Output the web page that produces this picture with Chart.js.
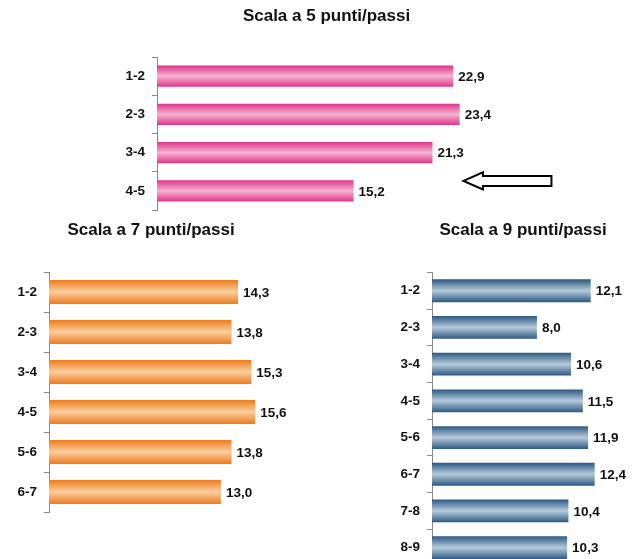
<!DOCTYPE html>
<html>
<head>
<meta charset="utf-8">
<script src="https://cdn.jsdelivr.net/npm/chart.js@4"></script>
<style>
  body { margin: 0; background: #fff; }
  #wrap { position: relative; width: 641px; height: 559px; overflow: hidden; }
  canvas { position: absolute; }
</style>
</head>
<body>
<div id="wrap">
  <canvas id="chart5" width="533" height="212" style="left:108px; top:0px"></canvas>
  <canvas id="chart7" width="292" height="308" style="left:15px; top:212px"></canvas>
  <canvas id="chart9" width="264" height="358" style="left:391px; top:212px"></canvas>
</div>
<script>
// ===== Data =====
const title5 = "Scala a 5 punti/passi";
const labels5 = ["1-2", "2-3", "3-4", "4-5"];
const values5 = [22.9, 23.4, 21.3, 15.2];

const title7 = "Scala a 7 punti/passi";
const labels7 = ["1-2", "2-3", "3-4", "4-5", "5-6", "6-7"];
const values7 = [14.3, 13.8, 15.3, 15.6, 13.8, 13.0];

const title9 = "Scala a 9 punti/passi";
const labels9 = ["1-2", "2-3", "3-4", "4-5", "5-6", "6-7", "7-8", "8-9"];
const values9 = [12.1, 8.0, 10.6, 11.5, 11.9, 12.4, 10.4, 10.3];

const fontFamily = "'Liberation Sans', Arial, sans-serif";

// ===== Value labels with comma decimals =====
const valueLabels = {
  id: "valueLabels",
  afterDatasetsDraw(chart) {
    const ctx = chart.ctx;
    const ds = chart.data.datasets[0];
    ctx.save();
    ctx.font = "bold 13.5px " + fontFamily;
    ctx.fillStyle = "#111";
    ctx.textAlign = "left";
    ctx.textBaseline = "middle";
    chart.getDatasetMeta(0).data.forEach((bar, i) => {
      ctx.fillText(ds.data[i].toFixed(1).replace(".", ","), bar.x + 5, bar.y + 1);
    });
    ctx.restore();
  }
};

// ===== Bar gradient: dark edges, light middle (built once scales are sized) =====
const barShading = {
  id: "barShading",
  afterLayout(chart) {
    const ds = chart.data.datasets[0];
    const ys = chart.scales.y;
    const h = (ys.bottom - ys.top) / chart.data.labels.length * ds.barPercentage;
    ds.grads = ds.data.map((v, i) => {
      const cy = ys.getPixelForValue(i);
      const g = chart.ctx.createLinearGradient(0, cy - h / 2, 0, cy + h / 2);
      g.addColorStop(0, ds.shade[0]);
      g.addColorStop(0.5, ds.shade[1]);
      g.addColorStop(1, ds.shade[0]);
      return g;
    });
  }
};

// ===== Arrow pointing at the 4-5 bar =====
const arrow = {
  id: "arrow",
  afterDraw(chart) {
    const xs = chart.scales.x, ys = chart.scales.y;
    const y = ys.getPixelForValue(3) - 10;
    const tip = xs.getPixelForValue(23.7);
    const base = xs.getPixelForValue(25.2);
    const tail = xs.getPixelForValue(30.5);
    const ctx = chart.ctx;
    ctx.save();
    ctx.beginPath();
    ctx.moveTo(tip, y);
    ctx.lineTo(base, y - 8.5);
    ctx.lineTo(base, y - 5);
    ctx.lineTo(tail, y - 5);
    ctx.lineTo(tail, y + 5);
    ctx.lineTo(base, y + 5);
    ctx.lineTo(base, y + 8.5);
    ctx.closePath();
    ctx.fillStyle = "#fff";
    ctx.fill();
    ctx.lineWidth = 2;
    ctx.strokeStyle = "#000";
    ctx.stroke();
    ctx.restore();
  }
};

function makeChart(id, o) {
  return new Chart(document.getElementById(id), {
    type: "bar",
    data: {
      labels: o.labels,
      datasets: [{
        data: o.values,
        shade: [o.edge, o.mid],
        backgroundColor: (c) => (c.dataset.grads && c.dataset.grads[c.dataIndex]) || o.edge,
        borderWidth: 0,
        categoryPercentage: 1,
        barPercentage: o.barPct
      }]
    },
    options: {
      indexAxis: "y",
      responsive: false,
      animation: false,
      devicePixelRatio: 1,
      layout: { padding: { left: 0, right: o.padRight, top: 0, bottom: o.padBottom } },
      plugins: {
        legend: { display: false },
        tooltip: { enabled: false },
        title: {
          display: true,
          text: o.title,
          color: "#111",
          font: { family: fontFamily, size: 17, weight: "bold" },
          padding: { top: o.titleTop, bottom: o.titleBottom }
        }
      },
      scales: {
        x: { display: false, min: 0, max: o.max },
        y: {
          afterFit(scale) {
            scale.width = o.axisWidth;
            scale.paddingTop = 0;
            scale.paddingBottom = 0;
          },
          border: { display: true, color: "#8a8a8a", width: 1 },
          grid: { drawOnChartArea: false, tickLength: 5, color: "#8a8a8a" },
          ticks: {
            color: "#111",
            padding: 7,
            font: { family: fontFamily, size: 13.5, weight: "bold" }
          }
        }
      }
    },
    plugins: [barShading].concat(o.plugins)
  });
}

// ===== Charts =====
makeChart("chart5", {
  title: title5, labels: labels5, values: values5,
  edge: "#e0358a", mid: "#f5b4d2", barPct: 0.55,
  max: 30, axisWidth: 49, padRight: 96, padBottom: 2,
  titleTop: 6, titleBottom: 30.6,
  plugins: [valueLabels, arrow]
});

makeChart("chart7", {
  title: title7, labels: labels7, values: values7,
  edge: "#ee7b1a", mid: "#fbcfa2", barPct: 0.6,
  max: 18, axisWidth: 34, padRight: 20, padBottom: 8,
  titleTop: 8, titleBottom: 31.6,
  plugins: [valueLabels]
});

makeChart("chart9", {
  title: title9, labels: labels9, values: values9,
  edge: "#2c5a83", mid: "#b6cad9", barPct: 0.62,
  max: 17, axisWidth: 41, padRight: 0, padBottom: 4,
  titleTop: 8, titleBottom: 32,
  plugins: [valueLabels]
});
</script>
</body>
</html>
